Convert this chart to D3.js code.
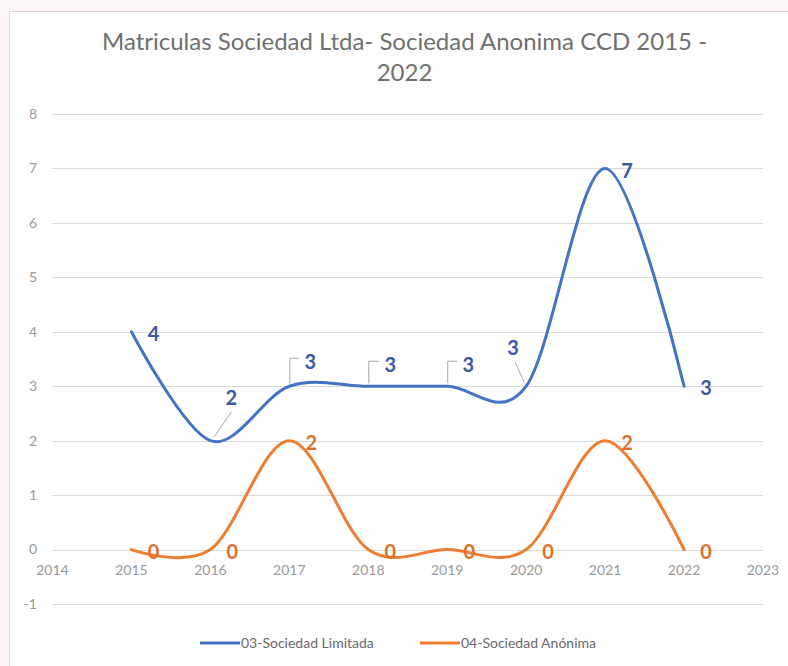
<!DOCTYPE html>
<html>
<head>
<meta charset="utf-8">
<script src="https://cdn.jsdelivr.net/npm/d3@7"></script>
<style>
  body { margin: 0; background: #fdf7fc; }
  svg { display: block; font-family: Lato, "Open Sans", sans-serif; }
</style>
</head>
<body>
<svg id="chart" width="788" height="666"></svg>
<script>
// ---- data ----
const years = [2015, 2016, 2017, 2018, 2019, 2020, 2021, 2022];
const limitada = [4, 2, 3, 3, 3, 3, 7, 3];
const anonima = [0, 0, 2, 0, 0, 0, 2, 0];
const seriesNames = ['03-Sociedad Limitada', '04-Sociedad Anónima'];
const xTicks = [2014, 2015, 2016, 2017, 2018, 2019, 2020, 2021, 2022, 2023];
const yTicks = [-1, 0, 1, 2, 3, 4, 5, 6, 7, 8];
const titleLines = ['Matriculas Sociedad Ltda- Sociedad Anonima CCD 2015 -', '2022'];

// labels Excel moved by hand (offset of label centre from its point)
const limitadaLabelMoves = [
  null,
  { dx: 21, dy: -43, leader: 'line' },
  { dx: 21, dy: -24, leader: 'elbow' },
  { dx: 22, dy: -21, leader: 'elbow' },
  { dx: 21, dy: -21, leader: 'elbow' },
  { dx: -13, dy: -38, leader: 'line' },
  null,
  null
];

const svg = d3.select('#chart');

// chart frame
svg.append('rect')
  .attr('x', 9.5).attr('y', 11.5)
  .attr('width', 800).attr('height', 700)
  .style('fill', '#fff')
  .style('stroke', '#d9d9d9');

const x = d3.scaleLinear().domain([2014, 2023]).range([52.5, 763]);
const y = d3.scaleLinear().domain([-1, 8]).range([604, 114]);

// gridlines
svg.append('g')
  .selectAll('line')
  .data(yTicks)
  .join('line')
  .attr('x1', x(2014)).attr('x2', x(2023))
  .attr('y1', d => Math.round(y(d)) + 0.5)
  .attr('y2', d => Math.round(y(d)) + 0.5)
  .style('stroke', '#d9d9d9')
  .style('stroke-width', 1);

// y tick labels
svg.append('g')
  .selectAll('text')
  .data(yTicks)
  .join('text')
  .attr('x', 37)
  .attr('y', d => y(d))
  .attr('dy', '0.35em')
  .attr('text-anchor', 'end')
  .style('fill', '#9a9a9a')
  .style('font-size', '14px')
  .text(d => d);

// x tick labels (axis crosses at 0)
svg.append('g')
  .selectAll('text')
  .data(xTicks)
  .join('text')
  .attr('x', d => x(d))
  .attr('y', y(0) + 25)
  .attr('text-anchor', 'middle')
  .style('fill', '#9a9a9a')
  .style('font-size', '14px')
  .text(d => d);

// title, fitted to the reference width
const titleG = svg.append('g');
titleLines.forEach((t, i) => {
  titleG.append('text')
    .attr('x', 404.5)
    .attr('y', 50 + i * 31)
    .attr('text-anchor', 'middle')
    .style('fill', '#707070')
    .style('font-size', '21px')
    .text(t);
});
const first = titleG.select('text').node();
const w = first.getComputedTextLength();
const fs = 21 * 607 / w;
titleG.selectAll('text').style('font-size', Math.min(fs, 24) + 'px');

// series lines
const line = d3.line()
  .x(d => x(d[0]))
  .y(d => y(d[1]))
  .curve(d3.curveCatmullRom.alpha(0));

const series = [
  { name: seriesNames[0], values: limitada, color: '#4472c4', labelColor: '#3b5aa3', moves: limitadaLabelMoves },
  { name: seriesNames[1], values: anonima, color: '#ed7d31', labelColor: '#dd7230', moves: [] }
];

series.forEach(s => {
  svg.append('path')
    .datum(years.map((yr, i) => [yr, s.values[i]]))
    .attr('d', line)
    .style('fill', 'none')
    .style('stroke', s.color)
    .style('stroke-width', 3)
    .style('stroke-linejoin', 'round')
    .style('stroke-linecap', 'round');
});

// data labels
series.forEach(s => {
  const g = svg.append('g');
  years.forEach((yr, i) => {
    const px = x(yr), py = y(s.values[i]);
    const mv = s.moves[i];
    const cx = px + (mv ? mv.dx : 22);
    const cy = py + (mv ? mv.dy : 2);

    if (mv && mv.leader === 'elbow') {
      g.append('path')
        .attr('d', `M${px + 0.5},${py - 3} V${cy - 4} H${cx - 11}`)
        .style('fill', 'none')
        .style('stroke', '#a6a6a6')
        .style('stroke-width', 1);
    } else if (mv && mv.leader === 'line') {
      const tx = mv.dx > 0 ? cx : cx + 2;
      g.append('line')
        .attr('x1', mv.dx > 0 ? px + 4 : px - 2).attr('y1', py - 4)
        .attr('x2', tx).attr('y2', cy + 14)
        .style('stroke', '#a6a6a6')
        .style('stroke-width', 1);
    }

    g.append('text')
      .attr('x', cx)
      .attr('y', cy)
      .attr('dy', '0.36em')
      .attr('text-anchor', 'middle')
      .style('fill', s.labelColor)
      .style('font-size', '20px')
      .style('font-weight', 'bold')
      .text(s.values[i]);
  });
});

// legend
const legend = svg.append('g');
const legendX = [200, 420];
series.forEach((s, i) => {
  legend.append('line')
    .attr('x1', legendX[i]).attr('x2', legendX[i] + 40)
    .attr('y1', 643).attr('y2', 643)
    .style('stroke', s.color)
    .style('stroke-width', 3);
  legend.append('text')
    .attr('x', legendX[i] + 41)
    .attr('y', 643)
    .attr('dy', '0.35em')
    .style('fill', '#6a6a6a')
    .style('font-size', '14px')
    .text(s.name);
});
</script>
</body>
</html>
